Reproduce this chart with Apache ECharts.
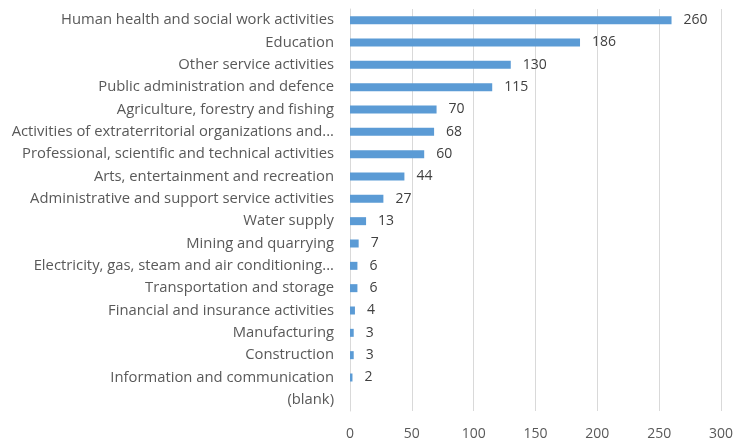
<!DOCTYPE html>
<html><head><meta charset="utf-8">
<script src="https://cdn.jsdelivr.net/npm/echarts@6/dist/echarts.min.js"></script>
<style>html,body{margin:0;padding:0;background:#fff}#c{width:738px;height:443px}</style>
</head><body><div id="c"></div>
<script>
var categories = [
  "Human health and social work activities",
  "Education",
  "Other service activities",
  "Public administration and defence",
  "Agriculture, forestry and fishing",
  "Activities of extraterritorial organizations and...",
  "Professional, scientific and technical activities",
  "Arts, entertainment and recreation",
  "Administrative and support service activities",
  "Water supply",
  "Mining and quarrying",
  "Electricity, gas, steam and air conditioning...",
  "Transportation and storage",
  "Financial and insurance activities",
  "Manufacturing",
  "Construction",
  "Information and communication",
  "(blank)"
];
var values = [260, 186, 130, 115, 70, 68, 60, 44, 27, 13, 7, 6, 6, 4, 3, 3, 2, null];
var xTicks = [0, 50, 100, 150, 200, 250, 300];

var chart = echarts.init(document.getElementById('c'), null, {renderer: 'canvas'});
chart.setOption({
  animation: false,
  grid: {left: 350, right: 17, top: 9, bottom: 32, containLabel: false},
  xAxis: {
    type: 'value', min: xTicks[0], max: xTicks[xTicks.length - 1], interval: 50,
    axisLine: {show: false}, axisTick: {show: false},
    splitLine: {lineStyle: {color: '#d9d9d9', width: 1}},
    axisLabel: {color: '#595959', fontSize: 14, fontFamily: 'Open Sans', margin: 16}
  },
  yAxis: {
    type: 'category', data: categories, inverse: true,
    axisLine: {lineStyle: {color: '#d9d9d9'}}, axisTick: {show: false},
    axisLabel: {color: '#595959', fontSize: 14.8, fontFamily: 'Open Sans', margin: 16, interval: 0}
  },
  series: [{
    type: 'bar', data: values, barWidth: 8,
    itemStyle: {color: '#5b9bd5'},
    label: {show: true, position: 'right', distance: 12, color: '#404040', fontSize: 14, fontFamily: 'Open Sans'}
  }]
});
</script></body></html>
